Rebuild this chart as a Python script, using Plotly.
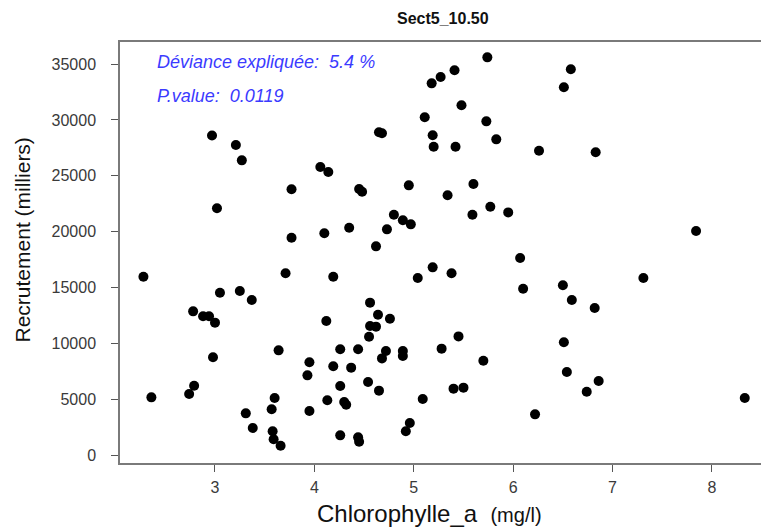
import plotly.graph_objects as go

# Chlorophylle a (mg/l) and recruitment (thousands) for sector 5
chloro = [2.28, 2.36, 2.74, 2.79, 2.78, 2.88, 2.94, 3.00, 2.98, 3.05, 3.02, 2.97,
          3.21, 3.27, 3.25, 3.37, 3.31, 3.38, 3.57, 3.60, 3.58, 3.59, 3.66, 3.64,
          3.71, 3.77, 3.77, 3.93, 3.95, 3.95, 4.06, 4.14, 4.10, 4.12, 4.13, 4.19,
          4.19, 4.26, 4.26, 4.26, 4.30, 4.32, 4.35, 4.37, 4.44, 4.44, 4.45, 4.45,
          4.48, 4.54, 4.55, 4.56, 4.56, 4.62, 4.62, 4.64, 4.65, 4.68, 4.65, 4.68,
          4.72, 4.73, 4.76, 4.80, 4.89, 4.89, 4.89, 4.92, 4.96, 4.95, 4.97, 5.04,
          5.09, 5.11, 5.18, 5.19, 5.20, 5.19, 5.27, 5.28, 5.34, 5.38, 5.40, 5.41,
          5.42, 5.45, 5.48, 5.50, 5.59, 5.60, 5.70, 5.73, 5.74, 5.77, 5.83, 5.95,
          6.07, 6.10, 6.22, 6.26, 6.50, 6.51, 6.51, 6.54, 6.58, 6.59, 6.74, 6.82,
          6.83, 6.86, 7.31, 7.84, 8.33]
recrutement = [15960, 5160, 5460, 6200, 12860, 12420, 12420, 11850, 8750, 14530, 22090, 28600,
               27750, 26380, 14680, 13880, 3730, 2420, 4090, 5100, 2120, 1410, 830, 9370,
               16270, 23790, 19450, 7130, 8300, 3940, 25780, 25340, 19850, 12000, 4900, 15960,
               7940, 9460, 6180, 1760, 4740, 4500, 20350, 7820, 9460, 1580, 1190, 23810,
               23570, 6540, 10590, 13640, 11550, 11490, 18680, 12560, 28890, 28800, 5760, 8650,
               9310, 20200, 12200, 21510, 21010, 9310, 8860, 2120, 2860, 24140, 20650, 15850,
               5010, 30230, 33270, 28620, 27600, 16800, 33840, 9520, 23250, 16270, 5940, 34440,
               27600, 10620, 31310, 6030, 21510, 24260, 8440, 29870, 35600, 22230, 28260, 21720,
               17640, 14890, 3640, 27240, 15190, 32920, 10090, 7430, 34530, 13880, 5670, 13160,
               27100, 6620, 15850, 20050, 5100]

x_ticks = [3, 4, 5, 6, 7, 8]
y_ticks = [0, 5000, 10000, 15000, 20000, 25000, 30000, 35000]
y_tick_labels = [str(v) for v in y_ticks]

title_text = "Sect5_10.50"
deviance_text = "Déviance expliquée:  5.4 %"
pvalue_text = "P.value:  0.0119"

FONT = "Liberation Sans, Arial, sans-serif"

fig = go.Figure()
fig.add_trace(go.Scatter(
    x=chloro, y=recrutement, mode="markers",
    marker=dict(color="black", size=10, line=dict(width=0)),
    showlegend=False, hoverinfo="skip",
))

axis_common = dict(
    showgrid=False, zeroline=False,
    showline=True, linecolor="#7a7a7a", linewidth=1.5,
    ticks="outside", ticklen=7, tickwidth=1.3, tickcolor="#555",
    tickfont=dict(family=FONT, size=16, color="#3a3a3a"),
)

fig.update_layout(
    width=761, height=529,
    margin=dict(l=120, r=0, t=42, b=66, pad=0),
    paper_bgcolor="white", plot_bgcolor="white",
    xaxis=dict(range=[2.0443, 8.4933], tickvals=x_ticks, mirror=True,
               ticklabelstandoff=2, **axis_common),
    yaxis=dict(range=[-716, 36974], tickvals=y_ticks, ticktext=y_tick_labels,
               mirror=False, ticklabelstandoff=12, **axis_common),
    annotations=[
        dict(text="<b>" + title_text + "</b>", xref="paper", yref="paper",
             x=0.504, y=1, yshift=24, xanchor="center", yanchor="middle",
             showarrow=False, font=dict(family=FONT, size=16, color="#111")),
        dict(text="<i>" + deviance_text + "</i>", xref="x", yref="y",
             x=2.40, y=35140, xanchor="left", yanchor="middle",
             showarrow=False, font=dict(family=FONT, size=18, color="#3b3bff")),
        dict(text="<i>" + pvalue_text + "</i>", xref="x", yref="y",
             x=2.40, y=32140, xanchor="left", yanchor="middle",
             showarrow=False, font=dict(family=FONT, size=18, color="#3b3bff")),
        dict(text="Chlorophylle_a  <span style='font-size:20px'>(mg/l)</span>",
             xref="paper", yref="paper", x=0.4836, y=0, yshift=-50,
             xanchor="center", yanchor="middle", showarrow=False,
             font=dict(family=FONT, size=24, color="#111")),
        dict(text="Recrutement (milliers)", xref="paper", yref="paper",
             x=0, xshift=-98, y=0.5, yshift=12, xanchor="center", yanchor="middle",
             textangle=-90, showarrow=False,
             font=dict(family=FONT, size=21, color="#111")),
    ],
)

fig.write_html("out.html")
